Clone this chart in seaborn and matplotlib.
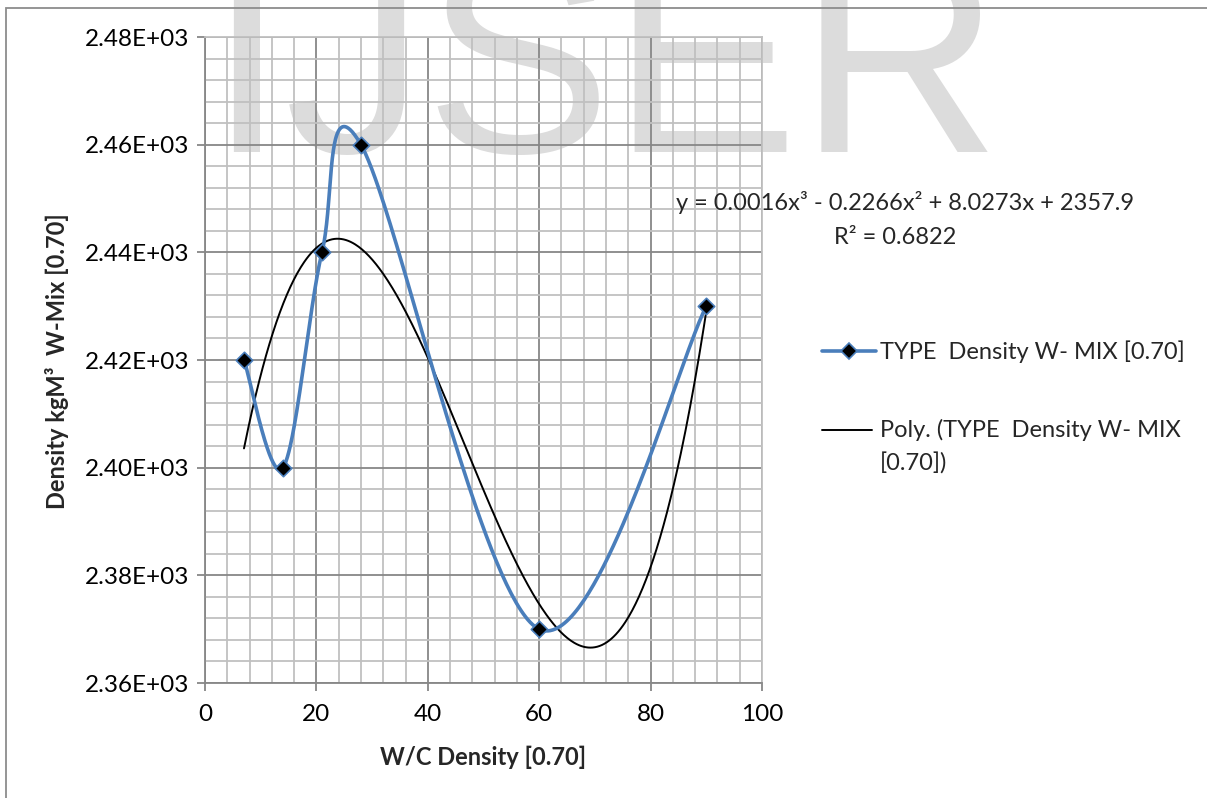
import numpy as np
import pandas as pd
import matplotlib
matplotlib.use("Agg")
import matplotlib.pyplot as plt
import seaborn as sns
from matplotlib.lines import Line2D
from matplotlib.patches import Rectangle
from matplotlib.ticker import MultipleLocator, FuncFormatter

# Measured values
wc_density = [7, 14, 21, 28, 60, 90]
mix_density = [2420, 2400, 2440, 2460, 2370, 2430]

series_label = "TYPE  Density W- MIX [0.70]"
trend_label = "Poly. (TYPE  Density W- MIX\n[0.70])"
x_title = "W/C Density [0.70]"
y_title = "Density kgM³  W-Mix [0.70]"
watermark = "IJSER"

sns.set_theme(style="white")
plt.rcParams["font.family"] = ["Lato", "DejaVu Sans"]

W, H = 1207, 798
fig = plt.figure(figsize=(W / 100, H / 100), dpi=100)
fig.patch.set_facecolor("white")


def px(x, y):
    """Pixel position (from top-left) to figure fraction."""
    return x / W, 1 - y / H


def smooth_curve(xs, ys, n=80):
    """Cardinal (Catmull-Rom) Bezier smoothing, as used by spreadsheet charts."""
    pts = np.column_stack([xs, ys]).astype(float)
    ext = np.vstack([pts[0], pts, pts[-1]])
    t = np.linspace(0, 1, n)[:, None]
    segs = []
    for i in range(len(pts) - 1):
        p0, p1, p2, p3 = ext[i], ext[i + 1], ext[i + 2], ext[i + 3]
        c1 = p1 + (p2 - p0) / 6
        c2 = p2 - (p3 - p1) / 6
        seg = (1 - t) ** 3 * p1 + 3 * (1 - t) ** 2 * t * c1 + 3 * (1 - t) * t ** 2 * c2 + t ** 3 * p2
        segs.append(seg if i == 0 else seg[1:])
    return np.vstack(segs)


df = pd.DataFrame({"wc": wc_density, "density": mix_density})

# Cubic trend line fitted to the measurements
coefs = np.polyfit(df["wc"], df["density"], 3)
poly = np.poly1d(coefs)
fitted = poly(df["wc"])
r2 = 1 - np.sum((df["density"] - fitted) ** 2) / np.sum((df["density"] - df["density"].mean()) ** 2)
trend = pd.DataFrame({"wc": np.linspace(min(wc_density), max(wc_density), 400)})
trend["density"] = poly(trend["wc"])

curve = smooth_curve(df["wc"], df["density"])
curve_df = pd.DataFrame({"wc": curve[:, 0], "density": curve[:, 1]})

# Watermark behind the plot
fig.text(*px(206.7, 152), watermark, fontsize=201.6, color="#dcdcdc",
         family="Liberation Sans", ha="left", va="baseline", zorder=0)

# Outer chart border
fig.patches.append(Rectangle(px(6, 1200), (W + 50) / W, (1200 - 8) / H,
                             transform=fig.transFigure, fill=False,
                             edgecolor="#8c8c8c", linewidth=1.3, zorder=1))

ax = fig.add_axes([205 / W, 1 - 683 / H, 557 / W, 646 / H])
ax.set_facecolor("none")
ax.set_zorder(2)

blue = "#4a7ebb"
sns.lineplot(data=trend, x="wc", y="density", ax=ax, color="black", linewidth=1.4,
             sort=True, estimator=None, zorder=3, legend=False)
sns.lineplot(data=curve_df, x="wc", y="density", ax=ax, color=blue, linewidth=2.6,
             sort=False, estimator=None, zorder=4, legend=False)
sns.scatterplot(data=df, x="wc", y="density", ax=ax, marker="D", s=70, color="black",
                edgecolor=blue, linewidth=1.2, zorder=5, legend=False)

ax.set_xlim(0, 100)
ax.set_ylim(2360, 2480)
ax.xaxis.set_major_locator(MultipleLocator(20))
ax.xaxis.set_minor_locator(MultipleLocator(4))
ax.yaxis.set_major_locator(MultipleLocator(20))
ax.yaxis.set_minor_locator(MultipleLocator(4))
ax.yaxis.set_major_formatter(FuncFormatter(lambda v, p: f"{v / 1000:.2f}E+03"))
ax.xaxis.set_major_formatter(FuncFormatter(lambda v, p: f"{v:.0f}"))

ax.grid(which="major", color="#878787", linewidth=1.3, zorder=1)
ax.grid(which="minor", color="#c0c0c0", linewidth=1.3, zorder=1)
ax.set_axisbelow(True)

for side in ["top", "right"]:
    ax.spines[side].set_color("#c0c0c0")
    ax.spines[side].set_linewidth(1.3)
for side in ["left", "bottom"]:
    ax.spines[side].set_color("#878787")
    ax.spines[side].set_linewidth(1.3)

ax.tick_params(which="major", direction="out", length=6, width=1.3, color="#878787",
               labelsize=17.5, labelcolor="black", left=True, bottom=True)
ax.tick_params(axis="y", pad=5)
ax.tick_params(axis="x", pad=9)
ax.tick_params(which="minor", length=0)

ax.set_xlabel(x_title, fontsize=17, fontweight="bold", va="center")
ax.set_ylabel(y_title, fontsize=17, fontweight="bold", va="center")
ax.xaxis.set_label_coords((483 - 205) / 557, (683 - 757) / 646)
ax.yaxis.set_label_coords((57 - 205) / 557, (683 - 361) / 646)

# Trend equation
a, b, c, d = coefs
sgn = lambda v: "+" if v >= 0 else "-"
eq = (f"y = {a:.4f}x³ {sgn(b)} {abs(b):.4f}x² {sgn(c)} {abs(c):.4f}x "
      f"{sgn(d)} {abs(d):.1f}")
fig.text(*px(905, 203), eq, fontsize=17, ha="center", va="center", zorder=5)
fig.text(*px(895, 237), f"R² = {r2:.4f}", fontsize=17, ha="center", va="center", zorder=5)

# Legend
fig.add_artist(Line2D([822 / W, 876 / W], [1 - 351 / H] * 2, color=blue, linewidth=2.6))
fig.add_artist(Line2D([849 / W], [1 - 351 / H], marker="D", markersize=8,
                      markerfacecolor="black", markeredgecolor=blue, markeredgewidth=1.2))
fig.text(*px(880, 352), series_label, fontsize=17, ha="left", va="center")
fig.add_artist(Line2D([822 / W, 872 / W], [1 - 430 / H] * 2, color="black", linewidth=1.4))
fig.text(*px(880, 419), trend_label, fontsize=17, ha="left", va="top", linespacing=1.62)

fig.savefig("out.png", dpi=100, facecolor="white")
